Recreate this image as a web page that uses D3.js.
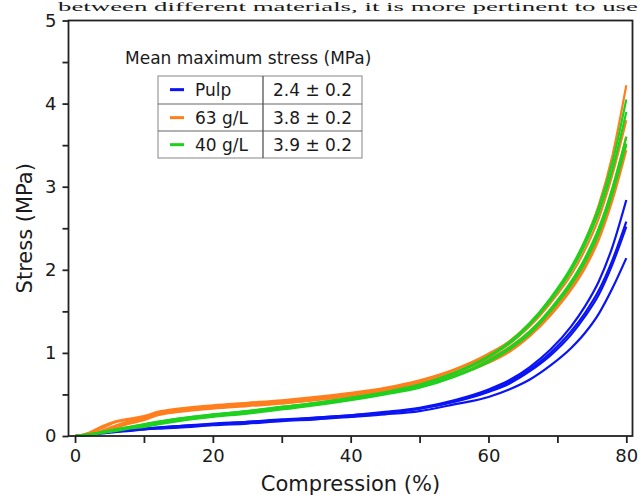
<!DOCTYPE html>
<meta charset="utf-8">
<script src="https://d3js.org/d3.v7.min.js"></script>
<style>
  body { margin: 0; background: #fff; }
  svg text { font-family: "DejaVu Sans", Verdana, sans-serif; fill: #1a1a1a; }
</style>
<div id="chart_area"></div>

<script>

    // compression grid shared by every curve (%)
    let strain = [0, 2, 4, 6, 8, 10, 12, 15, 20, 25, 30, 35, 40, 45, 50, 55, 60, 63, 66, 69, 72, 74, 76, 78, 80];

    // stress (MPa), one array per specimen
    let pulp1 = [0, 0.02, 0.04, 0.06, 0.08, 0.09, 0.10, 0.12, 0.15, 0.17, 0.20, 0.22, 0.25, 0.29, 0.34, 0.43, 0.56, 0.67, 0.83, 1.04, 1.32, 1.56, 1.86, 2.28, 2.84];
    let pulp2 = [0, 0.02, 0.04, 0.06, 0.07, 0.09, 0.10, 0.12, 0.14, 0.17, 0.19, 0.22, 0.25, 0.28, 0.33, 0.42, 0.54, 0.65, 0.80, 1.00, 1.26, 1.48, 1.75, 2.12, 2.58];
    let pulp3 = [0, 0.02, 0.04, 0.05, 0.07, 0.08, 0.09, 0.11, 0.14, 0.16, 0.19, 0.21, 0.24, 0.28, 0.33, 0.41, 0.53, 0.63, 0.78, 0.97, 1.22, 1.44, 1.70, 2.07, 2.52];
    let pulp4 = [0, 0.02, 0.03, 0.05, 0.06, 0.08, 0.09, 0.10, 0.13, 0.15, 0.18, 0.20, 0.23, 0.26, 0.30, 0.38, 0.47, 0.56, 0.68, 0.85, 1.06, 1.24, 1.47, 1.78, 2.14];

    let g63a = [0, 0.04, 0.12, 0.18, 0.21, 0.24, 0.29, 0.33, 0.37, 0.40, 0.43, 0.47, 0.52, 0.58, 0.67, 0.80, 0.99, 1.14, 1.36, 1.65, 2.02, 2.35, 2.78, 3.38, 4.22];
    let g63b = [0, 0.03, 0.10, 0.17, 0.20, 0.22, 0.28, 0.32, 0.36, 0.39, 0.42, 0.46, 0.51, 0.57, 0.66, 0.79, 0.97, 1.11, 1.32, 1.60, 1.94, 2.24, 2.62, 3.15, 3.80];
    let g63c = [0, 0.02, 0.07, 0.13, 0.18, 0.21, 0.27, 0.31, 0.35, 0.38, 0.41, 0.45, 0.50, 0.56, 0.64, 0.76, 0.93, 1.07, 1.26, 1.52, 1.84, 2.12, 2.48, 2.98, 3.60];
    let g63d = [0, 0.02, 0.06, 0.11, 0.16, 0.20, 0.26, 0.30, 0.34, 0.37, 0.40, 0.44, 0.49, 0.54, 0.62, 0.73, 0.90, 1.03, 1.22, 1.48, 1.79, 2.06, 2.40, 2.90, 3.50];
    let g63e = [0, 0.02, 0.05, 0.10, 0.15, 0.19, 0.25, 0.29, 0.33, 0.36, 0.39, 0.43, 0.48, 0.53, 0.61, 0.72, 0.88, 1.01, 1.20, 1.45, 1.76, 2.02, 2.36, 2.84, 3.44];

    let g40a = [0, 0.02, 0.05, 0.08, 0.11, 0.14, 0.17, 0.21, 0.26, 0.30, 0.35, 0.40, 0.46, 0.53, 0.62, 0.76, 0.96, 1.13, 1.36, 1.66, 2.03, 2.35, 2.75, 3.30, 4.05];
    let g40b = [0, 0.02, 0.05, 0.08, 0.11, 0.14, 0.17, 0.21, 0.26, 0.30, 0.35, 0.40, 0.46, 0.52, 0.61, 0.75, 0.95, 1.11, 1.34, 1.63, 1.99, 2.30, 2.69, 3.21, 3.90];
    let g40c = [0, 0.02, 0.04, 0.07, 0.10, 0.12, 0.15, 0.19, 0.24, 0.28, 0.33, 0.38, 0.44, 0.51, 0.59, 0.72, 0.91, 1.06, 1.26, 1.53, 1.86, 2.14, 2.50, 2.99, 3.60];
    let g40d = [0, 0.01, 0.04, 0.06, 0.09, 0.11, 0.14, 0.18, 0.23, 0.27, 0.32, 0.37, 0.43, 0.50, 0.58, 0.71, 0.89, 1.04, 1.23, 1.50, 1.82, 2.09, 2.44, 2.92, 3.52];

    // legend table
    let groupNames = ["Pulp", "63 g/L", "40 g/L"];
    let maxStress = ["2.4 ± 0.2", "3.8 ± 0.2", "3.9 ± 0.2"];
    let groupColors = ["#0a14f5", "#ff7f1e", "#1fd11f"];

    let xTicks = [0, 20, 40, 60, 80];
    let yTicks = [0, 1, 2, 3, 4, 5];

    let groups = [
        [pulp1, pulp2, pulp3, pulp4],
        [g63a, g63b, g63c, g63d, g63e],
        [g40a, g40b, g40c, g40d]
    ];

    drawChart();

    function drawChart() {
        let width = 642;
        let height = 495;

        // plot frame in pixels
        let left = 68.5, right = 632.5, top = 20.5, bottom = 436;

        let svg = d3.select("#chart_area")
                    .append("svg")
                        .attr("width", width)
                        .attr("height", height);

        // line of page text sitting above the figure
        svg.append("text")
            .attr("x", 58)
            .attr("y", 11)
            .attr("textLength", 580)
            .attr("lengthAdjust", "spacingAndGlyphs")
            .style("font-family", "'Liberation Serif', 'DejaVu Serif', serif")
            .style("font-size", "13px")
            .text("between different materials, it is more pertinent to use");

        let x = d3.scaleLinear()
                  .domain([-0.95, 80.9])
                  .range([left, right]);

        let y = d3.scaleLinear()
                  .domain([0, 5])
                  .range([bottom, top]);

        let line = d3.line()
                     .x((d, i) => x(strain[i]))
                     .y(d => y(d))
                     .curve(d3.curveMonotoneX);

        // curves
        groups.forEach((curves, gi) => {
            svg.append("g")
                .selectAll("path")
                .data(curves)
                .enter()
                .append("path")
                    .attr("d", line)
                    .attr("fill", "none")
                    .attr("stroke", groupColors[gi])
                    .attr("stroke-width", 2.2);
        });

        // frame
        svg.append("rect")
            .attr("x", left)
            .attr("y", top)
            .attr("width", right - left)
            .attr("height", bottom - top)
            .attr("fill", "none")
            .attr("stroke", "#222")
            .attr("stroke-width", 1.8);

        // x axis: labelled every 20, minor ticks every 10
        let xAxis = svg.append("g")
            .attr("transform", "translate(0," + bottom + ")")
            .call(d3.axisBottom(x)
                    .tickValues(d3.range(0, 81, 10))
                    .tickSize(7)
                    .tickFormat(d => xTicks.includes(d) ? d : ""));

        // y axis: labelled every 1, minor ticks every 0.5
        let yAxis = svg.append("g")
            .attr("transform", "translate(" + left + ",0)")
            .call(d3.axisLeft(y)
                    .tickValues(d3.range(0, 5.01, 0.5))
                    .tickSize(6)
                    .tickFormat(d => yTicks.includes(d) ? d : ""));

        [xAxis, yAxis].forEach(ax => {
            ax.select(".domain").remove();
            ax.selectAll(".tick line").attr("stroke", "#222").attr("stroke-width", 1.8);
            ax.selectAll(".tick text")
                .attr("fill", "#1a1a1a")
                .style("font-family", "'DejaVu Sans', sans-serif")
                .style("font-size", "18px");
        });
        xAxis.selectAll(".tick text").attr("dy", "0.95em").attr("y", 9);
        yAxis.selectAll(".tick text").attr("x", -12);

        // axis titles
        svg.append("text")
            .attr("x", (left + right) / 2)
            .attr("y", 491)
            .attr("text-anchor", "middle")
            .style("font-size", "21px")
            .text("Compression (%)");

        svg.append("text")
            .attr("transform", "translate(32," + (top + bottom) / 2 + ") rotate(-90)")
            .attr("text-anchor", "middle")
            .style("font-size", "21px")
            .text("Stress (MPa)");

        // legend table
        let legend = svg.append("g");

        legend.append("text")
            .attr("x", 125)
            .attr("y", 64)
            .style("font-size", "17px")
            .text("Mean maximum stress (MPa)");

        let rowTop = [76, 104, 131];
        let rowH = 27.3;
        let tLeft = 158, tMid = 263, tRight = 362;

        groupNames.forEach((name, i) => {
            let cy = rowTop[i] + rowH / 2;
            legend.append("line")
                .attr("x1", 170).attr("x2", 184)
                .attr("y1", cy).attr("y2", cy)
                .attr("stroke", groupColors[i])
                .attr("stroke-width", 3);
            legend.append("text")
                .attr("x", 195)
                .attr("y", cy + 6)
                .style("font-size", "17px")
                .text(name);
            legend.append("text")
                .attr("x", (tMid + tRight) / 2)
                .attr("y", cy + 6)
                .attr("text-anchor", "middle")
                .style("font-size", "17px")
                .text(maxStress[i]);
        });

        legend.append("rect")
            .attr("x", tLeft).attr("y", rowTop[0])
            .attr("width", tRight - tLeft).attr("height", 158 - rowTop[0])
            .attr("fill", "none")
            .attr("stroke", "#9a9a9a")
            .attr("stroke-width", 1.2);

        legend.selectAll("hline")
            .data(rowTop.slice(1))
            .enter()
            .append("line")
                .attr("x1", tLeft).attr("x2", tRight)
                .attr("y1", d => d).attr("y2", d => d)
                .attr("stroke", "#666")
                .attr("stroke-width", 1.2);

        legend.append("line")
            .attr("x1", tMid).attr("x2", tMid)
            .attr("y1", rowTop[0]).attr("y2", 158)
            .attr("stroke", "#555")
            .attr("stroke-width", 1.3);
    }

</script>
</html>
